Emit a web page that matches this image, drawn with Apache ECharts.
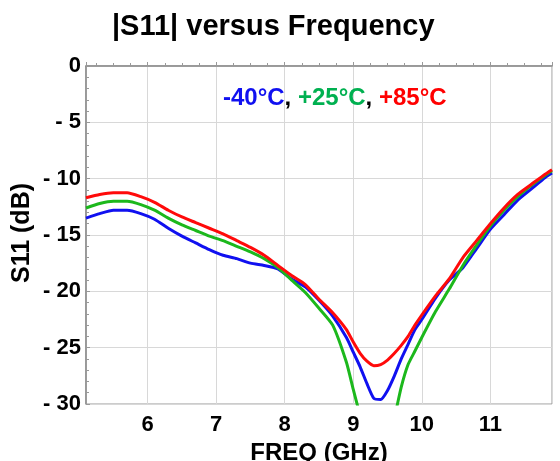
<!DOCTYPE html>
<html>
<head>
<meta charset="utf-8">
<script src="https://cdn.jsdelivr.net/npm/echarts@6/dist/echarts.min.js"></script>
<style>html,body{margin:0;padding:0;background:#fff;}#c{width:560px;height:461px;}</style>
</head>
<body>
<div id="c"></div>
<script>
const freq = [5.1,5.3,5.5,5.7,5.9,6.1,6.3,6.5,6.7,6.9,7.1,7.3,7.5,7.7,7.9,8.1,8.3,8.5,8.7,8.9,9.0,9.1,9.2,9.3,9.4,9.5,9.6,9.7,9.8,9.9,10.0,10.2,10.4,10.6,10.8,11.0,11.2,11.4,11.6,11.8,11.9];
const sBlue  = [-13.5,-13.1,-12.8,-12.8,-13.1,-13.6,-14.4,-15.1,-15.7,-16.3,-16.8,-17.1,-17.5,-17.7,-18.0,-18.9,-19.6,-20.8,-22.2,-24.1,-25.4,-26.7,-28.2,-29.5,-29.6,-28.8,-27.5,-26.0,-24.7,-23.4,-22.5,-20.6,-19.0,-17.9,-16.2,-14.5,-13.2,-11.9,-10.9,-9.9,-9.5];
const sGreen = [-12.6,-12.2,-12.0,-12.0,-12.3,-12.8,-13.5,-14.1,-14.6,-15.1,-15.5,-16.0,-16.5,-17.1,-17.9,-19.0,-20.1,-21.5,-23.0,-26.3,-28.7,-31.0,-33.0,-34.0,-34.0,-33.0,-31.2,-28.5,-26.5,-25.3,-24.1,-21.8,-19.8,-17.7,-15.9,-14.2,-12.8,-11.6,-10.6,-9.7,-9.3];
const sRed   = [-11.7,-11.4,-11.25,-11.25,-11.6,-12.1,-12.8,-13.4,-13.9,-14.4,-14.9,-15.5,-16.1,-16.8,-17.7,-18.6,-19.4,-20.7,-21.9,-23.4,-24.5,-25.5,-26.2,-26.6,-26.5,-26.1,-25.5,-24.8,-24.0,-23.0,-22.1,-20.4,-18.9,-17.0,-15.5,-14.0,-12.6,-11.4,-10.5,-9.6,-9.2];
const seriesNames = ['-40°C','+25°C','+85°C'];
const lineColors = ['#1010f0','#1cb81c','#ff0a0a'];
const textColors = ['#1010f0','#00b050','#ff0000'];
const yTicks = [0,-5,-10,-15,-20,-25,-30];

const FONT = '"Liberation Sans", Arial, sans-serif';
const chart = echarts.init(document.getElementById('c'), null, {renderer:'canvas'});
const pairs = arr => freq.map((f,i)=>[f,arr[i]]);
const allSeries = [sBlue,sGreen,sRed];

chart.setOption({
  animation:false,
  backgroundColor:'#fff',
  title:[{
    text:'|S11| versus Frequency',
    left:107, top:7,
    textStyle:{fontFamily:FONT,fontWeight:'bold',fontSize:29,color:'#000'}
  },{
    text:'{b|'+seriesNames[0]+'}{k|, }{g|'+seriesNames[1]+'}{k|, }{r|'+seriesNames[2]+'}',
    left:218, top:81,
    textStyle:{rich:{
      b:{fontFamily:FONT,fontWeight:'bold',fontSize:24,color:textColors[0]},
      g:{fontFamily:FONT,fontWeight:'bold',fontSize:24,color:textColors[1]},
      r:{fontFamily:FONT,fontWeight:'bold',fontSize:24,color:textColors[2]},
      k:{fontFamily:FONT,fontWeight:'bold',fontSize:24,color:'#000'}
    }}
  }],
  grid:{left:86,right:8,top:66,bottom:57,show:true,borderColor:'#999',borderWidth:1,
    containLabel:false,outerBoundsMode:'none'},
  xAxis:{
    type:'value',min:5.1,max:11.9,splitNumber:7,minInterval:1,maxInterval:1,
    name:'FREQ (GHz)',nameLocation:'middle',nameGap:31,
    nameTextStyle:{fontFamily:FONT,fontWeight:'bold',fontSize:24,color:'#000'},
    axisLine:{show:true,lineStyle:{color:'#888',width:1.5}},
    axisTick:{show:true,inside:true,length:4,lineStyle:{color:'#999'}},
    minorTick:{show:true,splitNumber:4,length:3,lineStyle:{color:'#999'}},
    axisLabel:{margin:10,fontFamily:FONT,fontWeight:'bold',fontSize:22,color:'#000',
      formatter:v=>Math.abs(v-Math.round(v))<1e-6?String(Math.round(v)):''},
    splitLine:{show:true,lineStyle:{color:'#d8d8d8',width:1}}
  },
  yAxis:{
    type:'value',min:-30,max:0,interval:5,
    axisLine:{show:true,lineStyle:{color:'#888',width:1.5}},
    axisTick:{show:true,inside:true,length:4,lineStyle:{color:'#999'}},
    minorTick:{show:true,splitNumber:5,length:3,lineStyle:{color:'#999'}},
    axisLabel:{margin:5,fontFamily:FONT,fontWeight:'bold',fontSize:22,color:'#000',
      formatter:v=>v===0?'0':'- '+Math.abs(v)},
    splitLine:{show:true,lineStyle:{color:'#d8d8d8',width:1}}
  },
  graphic:[{
    type:'text',x:22,y:233,rotation:Math.PI/2,
    style:{text:'S11 (dB)',fontFamily:FONT,fontWeight:'bold',fontSize:25,fill:'#000',
      textAlign:'center',textVerticalAlign:'middle'}
  }],
  series:allSeries.map((arr,i)=>({
    name:seriesNames[i],type:'line',data:pairs(arr),showSymbol:false,clip:true,
    smooth:0.2,lineStyle:{color:lineColors[i],width:3},z:3+i
  }))
});
</script>
</body>
</html>
